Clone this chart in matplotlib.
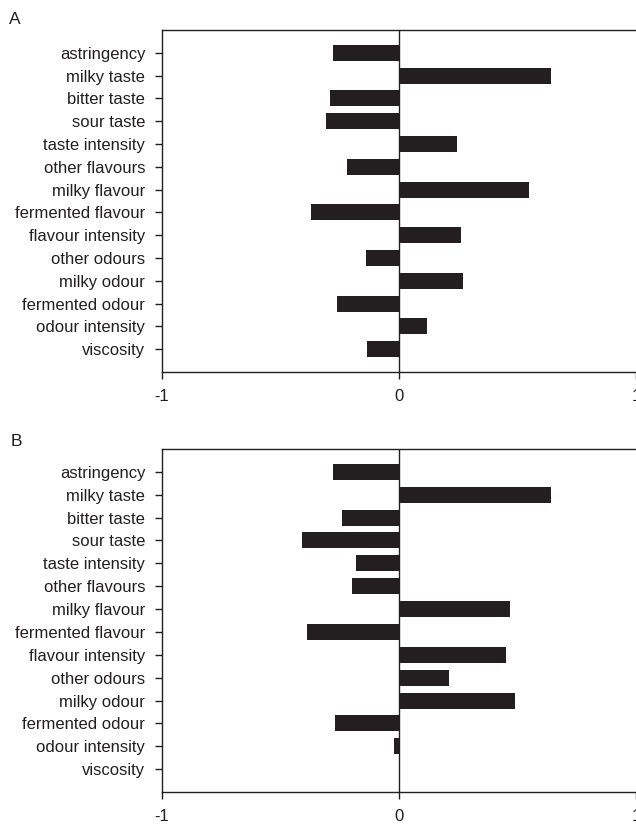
import matplotlib
matplotlib.use("Agg")
import matplotlib.pyplot as plt

plt.rcParams["font.family"] = ["Liberation Sans", "DejaVu Sans"]

attributes = [
    "astringency", "milky taste", "bitter taste", "sour taste",
    "taste intensity", "other flavours", "milky flavour", "fermented flavour",
    "flavour intensity", "other odours", "milky odour", "fermented odour",
    "odour intensity", "viscosity",
]
values_a = [-0.28, 0.64, -0.29, -0.31, 0.245, -0.22, 0.55, -0.37,
            0.26, -0.14, 0.27, -0.26, 0.12, -0.135]
values_b = [-0.28, 0.64, -0.24, -0.41, -0.18, -0.20, 0.47, -0.39,
            0.45, 0.21, 0.49, -0.27, -0.02, 0.005]
panel_names = ["A", "B"]
xticks = [-1, 0, 1]

W, H = 636, 824
fig = plt.figure(figsize=(W / 100, H / 100), dpi=100)

# axes boxes in pixels: (left, top, bottom)
boxes = [(162, 30, 372), (162, 449, 792)]
label_pos = [(9, 20), (11, 441)]

for vals, name, (l, t, b), (lx, ly) in zip([values_a, values_b], panel_names, boxes, label_pos):
    ax = fig.add_axes([l / W, 1 - b / H, 1 - l / W, (b - t) / H])
    ypos = list(range(len(attributes)))
    ax.barh(ypos, vals, height=0.7, color="#231f20", edgecolor="none")
    ax.axvline(0, color="#231f20", lw=1.0)
    ax.set_xlim(-1, 1)
    ax.set_ylim(len(attributes), -1)
    ax.set_yticks(ypos)
    ax.set_yticklabels(attributes, fontsize=12)
    ax.set_xticks(xticks)
    ax.set_xticklabels([str(v) for v in xticks], fontsize=12)
    ax.spines["right"].set_visible(False)
    for s in ["left", "bottom", "top"]:
        ax.spines[s].set_linewidth(1.0)
        ax.spines[s].set_color("#231f20")
    ax.tick_params(axis="y", length=5, width=1, pad=7, colors="#231f20")
    ax.tick_params(axis="x", length=5, width=1, pad=7, colors="#231f20")
    fig.text(lx / W, 1 - ly / H, name, fontsize=12.5, ha="left", va="center", color="#231f20")

fig.savefig("out.png", dpi=100)
